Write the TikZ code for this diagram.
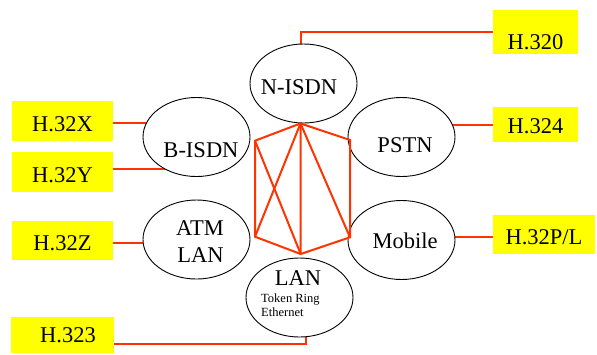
\documentclass[tikz,border=0pt]{standalone}
\usepackage{fontspec}
\setmainfont{Liberation Serif}
\usetikzlibrary{shapes.geometric,backgrounds}
\definecolor{wirered}{HTML}{FF3300}
\definecolor{tagyellow}{HTML}{FFFF00}

\begin{document}
\begin{tikzpicture}[x=1pt,y=-1pt,
  net/.style={ellipse, draw=black, line width=0.9pt, fill=white,
    minimum width=107pt, minimum height=79pt, inner sep=0pt},
  netlabel/.style={anchor=base, inner sep=0pt, font=\fontsize{22.5}{27}\selectfont},
  smalllabel/.style={anchor=base west, inner sep=0pt, font=\fontsize{12.5}{14}\selectfont},
  tag/.style={fill=tagyellow, inner sep=0pt, text depth=0pt,
    font=\fontsize{22.5}{27}\selectfont},
  wire/.style={draw=wirered, line width=2pt},
  mesh/.style={draw=wirered, line width=2pt, line join=miter},
]
\useasboundingbox (0,0) rectangle (597,354);

% networks
\node[net] (nisdn)  at (303.5,83.5) {};
\node[net] (pstn)   at (401.5,137)  {};
\node[net] (bisdn)  at (196.5,137)  {};
\node[net] (atmlan) at (196.5,239.5) {};
\node[net] (mobile) at (401.5,240)  {};
\node[net] (lan)    at (299.5,297.5) {};

% network names
\node[netlabel] (nisdnT) at (299,94)  {N-ISDN};
\node[netlabel] (bisdnT) at (201,157) {B-ISDN};
\node[netlabel] (pstnT)  at (405,152) {PSTN};
\node[netlabel] (atmT)   at (200,235) {ATM};
\node[netlabel] (atmlanT) at (200.5,262) {LAN};
\node[netlabel] (mobileT) at (405,248) {Mobile};
\node[netlabel] (lanT)   at (298,285) {LAN};
\node[smalllabel] (lanA) at (261,302) {Token Ring};
\node[smalllabel] (lanB) at (261,316) {Ethernet};

% recommendation tags
\node[tag, minimum width=85pt,  minimum height=44pt, text height=35.9pt] (h320)  at (535.5,32)    {H.320};
\node[tag, minimum width=85pt,  minimum height=35pt, text height=18.9pt] (h324)  at (535.5,124.5) {H.324};
\node[tag, minimum width=101pt, minimum height=40pt, text height=21.9pt] (h32x)  at (62.5,121)    {H.32X};
\node[tag, minimum width=101pt, minimum height=40pt, text height=21.9pt] (h32y)  at (62.5,172)    {H.32Y};
\node[tag, minimum width=101pt, minimum height=39pt, text height=19.9pt] (h32z)  at (62.5,240.5)  {H.32Z};
\node[tag, minimum width=103pt, minimum height=36pt, text height=15.9pt] (h323)  at (62.5,335)    {\hspace*{11pt}H.323};
\node[tag, minimum width=102pt, minimum height=39pt, text height=20.9pt] (h32pl) at (544,234.5)   {H.32P/L};

% tag connectors, kept behind the network ellipses
\begin{scope}[on background layer]
  \draw[wire] ([xshift=-3pt]nisdn.center) |- (h320.west);
  \draw[wire] (h324.west) -- (h324.west -| pstn.center);
  \draw[wire] ([yshift=-2pt]h32x.east) -- ([yshift=-2pt]h32x.east -| bisdn.center);
  \draw[wire] ([yshift=3pt]h32y.east) -- ([yshift=3pt]h32y.east -| bisdn.center);
  \draw[wire] ([yshift=-2.5pt]h32z.east) -- ([yshift=-2.5pt]h32z.east -| atmlan.center);
  \draw[wire] ([yshift=-2.5pt]h32pl.west) -- ([yshift=-2.5pt]h32pl.west -| mobile.center);
  \draw[wire] ([xshift=6.5pt]lan.center) |- ([yshift=-9pt]h323.east);
\end{scope}

% interconnection mesh between the networks
\coordinate (T)  at ([xshift=-3pt]nisdn.south);
\coordinate (UL) at (255,140.7);
\coordinate (UR) at (350,140);
\coordinate (LL) at (255,236.7);
\coordinate (LR) at (350,237.3);
\coordinate (B)  at (300.7,254);
\draw[mesh] (T) -- (UR) -- (LR) -- (B) -- (LL) -- (UL) -- cycle;
\draw[mesh] (T) -- (B);
\draw[mesh] (T) -- (LL);
\draw[mesh] (UL) -- (B);
\draw[mesh] (T) -- (LR);
\end{tikzpicture}
\end{document}
